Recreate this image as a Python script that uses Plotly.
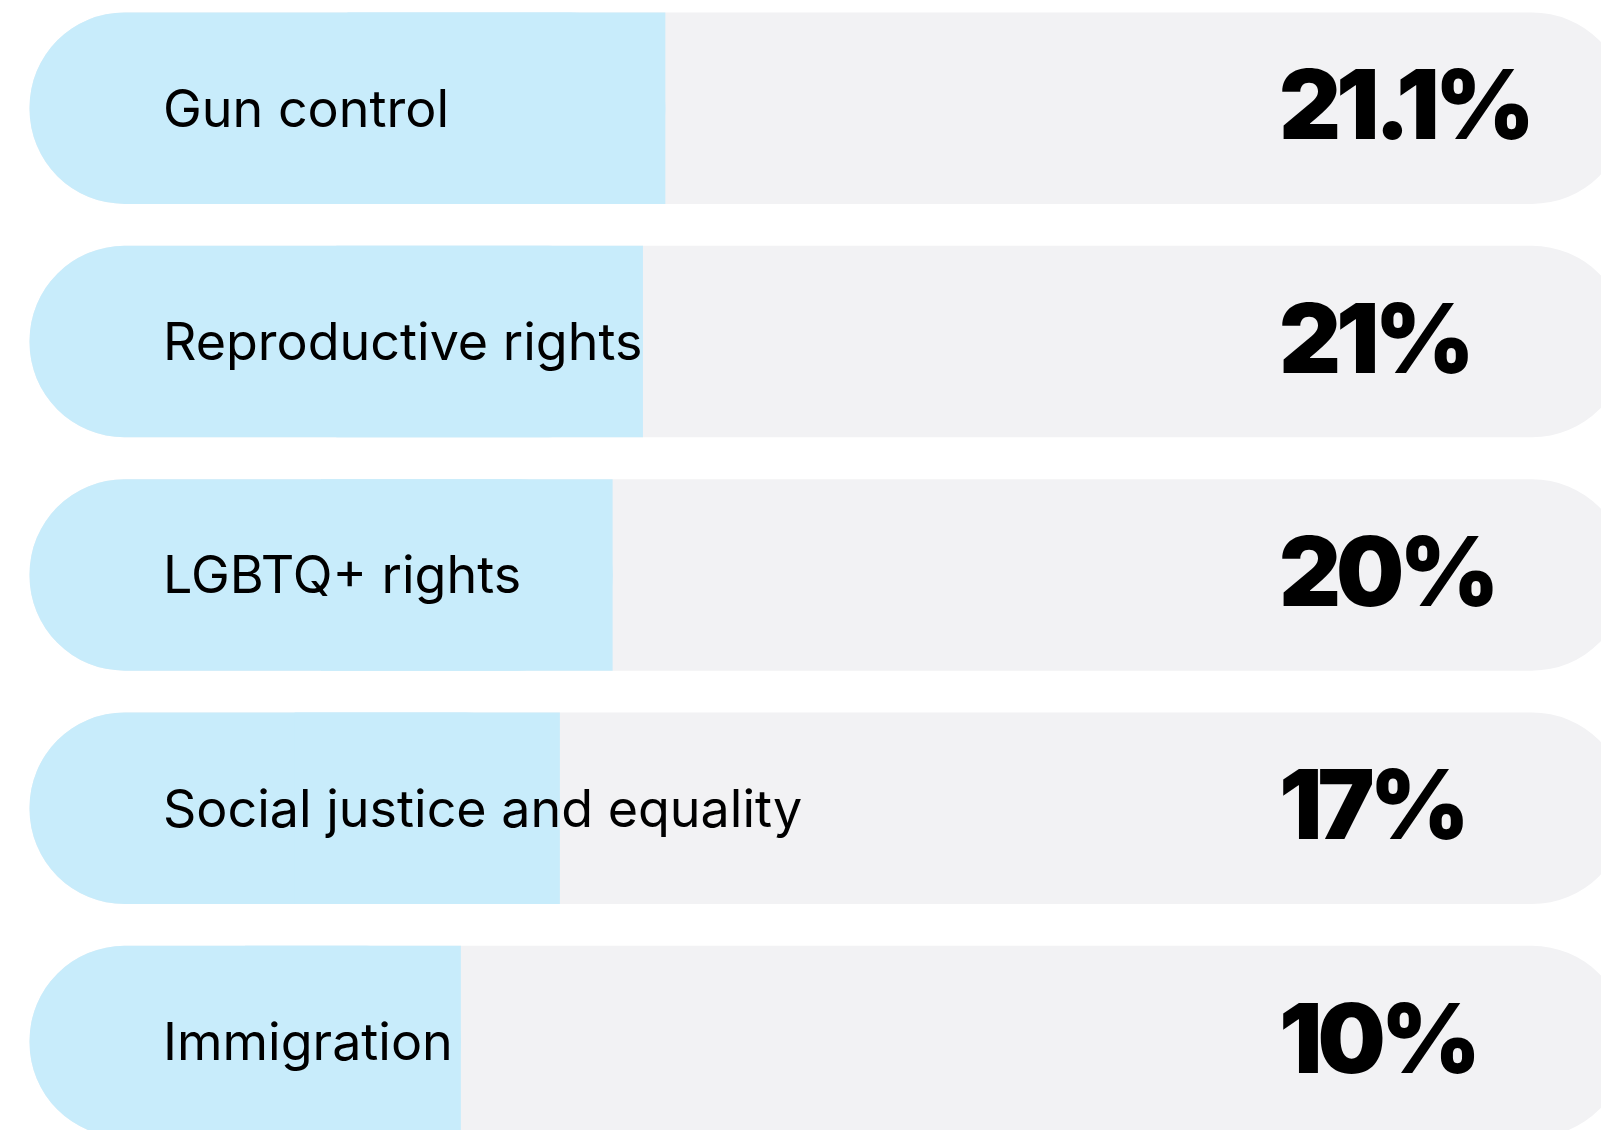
import plotly.graph_objects as go

# ---- data ----
categories = ["Gun control", "Reproductive rights", "LGBTQ+ rights",
              "Social justice and equality", "Immigration"]
value_labels = ["21.1%", "21%", "20%", "17%", "10%"]
# filled share of each track (percent of track length)
fill_share = [39.8, 38.4, 36.5, 33.2, 27.0]
track_total = [100, 100, 100, 100, 100]

CYAN = "#C8ECFB"
GREY = "#F2F2F4"
BAR_W = 0.8206

fig = go.Figure()

# full light-grey track, rounded at both ends
fig.add_trace(go.Bar(
    y=categories, base=[0] * len(categories), x=track_total,
    orientation="h", width=BAR_W,
    marker=dict(color=GREY, cornerradius="50%", line=dict(width=0)),
    hoverinfo="skip",
))
# cyan fill, rounded at both ends ...
fig.add_trace(go.Bar(
    y=categories, base=[0] * len(categories), x=fill_share,
    orientation="h", width=BAR_W,
    marker=dict(color=CYAN, cornerradius="50%", line=dict(width=0)),
    hoverinfo="skip",
))
# ... and squared off at its right end
fig.add_trace(go.Bar(
    y=categories, base=[f / 2 for f in fill_share], x=[f / 2 for f in fill_share],
    orientation="h", width=BAR_W,
    marker=dict(color=CYAN, cornerradius=0, line=dict(width=0)),
    hoverinfo="skip",
))

annotations = []
for cat, lab in zip(categories, value_labels):
    annotations.append(dict(
        x=8.22, y=cat, xref="x", yref="y", text=cat, showarrow=False,
        xanchor="left", yanchor="middle",
        font=dict(family="Inter, 'Noto Sans', sans-serif", size=52, color="#000000"),
    ))
    annotations.append(dict(
        x=78.1, y=cat, xref="x", yref="y", yshift=4,
        text='<span style="letter-spacing:-5px">' + lab + '</span>',
        showarrow=False, xanchor="left", yanchor="middle",
        font=dict(family="Inter, sans-serif", size=96, color="#000000", weight=900),
    ))

fig.update_layout(
    width=1601, height=1122,
    margin=dict(l=0, r=0, t=0, b=0, pad=0),
    paper_bgcolor="white", plot_bgcolor="white",
    barmode="overlay",
    showlegend=False,
    hovermode=False,
    xaxis=dict(range=[-1.346, 98.87], visible=False, fixedrange=True),
    yaxis=dict(range=[4.3788, -0.4294], visible=False, fixedrange=True,
               categoryorder="array", categoryarray=categories),
    annotations=annotations,
)

fig.write_html("out.html", config={"displayModeBar": False})
